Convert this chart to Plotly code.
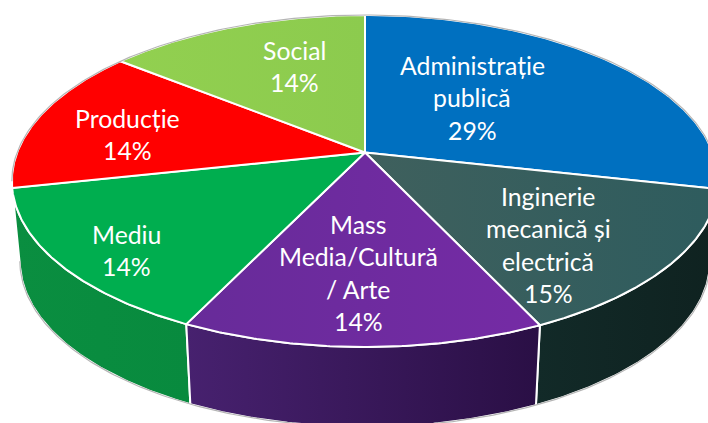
import numpy as np
import plotly.graph_objects as go

# ---- data -------------------------------------------------------------
categories = ["Administrație\npublică", "Inginerie\nmecanică și\nelectrică",
              "Mass\nMedia/Cultură\n/ Arte", "Mediu", "Producție", "Social"]
values = [28.51, 14.51, 14.13, 14.45, 14.2, 14.2]

# ---- style ------------------------------------------------------------
top_colors = [("#0070C0", "#0070C0"), ("#3F605D", "#2E5C5E"), ("#672B99", "#752BA5"),
              ("#00AE4F", "#00AE4F"), ("#FF0000", "#FF0000"), ("#92D050", "#8CCB4E")]
side_colors = [("#00487C", "#00487C"), ("#122A28", "#0F2220"), ("#47216F", "#2A0F45"),
               ("#0A8E40", "#088A3E"), ("#A00000", "#A00000"), ("#5C8432", "#5C8432")]
label_anchor = [(472, 65), (548, 196), (358, 224), (126, 234), (127, 118), (294, 50)]
LINE_PITCH = 32.6
FONT = dict(family="Lato", size=24.8, color="white")

# ---- projection of the pie disc -----------------------------------------
CX, CY, RX, RY, K = 365.0, 152.5, 347.9, 161.1, 0.1716
DEPTH, SHRINK = 80.0, 345.0 / 353.0


def top_point(theta):
    X, Y = np.sin(theta), np.cos(theta)
    w = 1 + K * Y
    return CX + RX * X / w, CY - RY * Y / w


def bottom_point(theta):
    x, y = top_point(theta)
    return CX + (x - CX) * SHRINK, y + DEPTH


def gradient(pair):
    return dict(type="horizontal", colorscale=[[0, pair[0]], [1, pair[1]]])


total = sum(values)
edges = 2 * np.pi * np.concatenate([[0], np.cumsum(values)]) / total
fig = go.Figure()

# side walls, back to front
for i in [5, 4, 0, 3, 1, 2]:
    t = np.linspace(edges[i], edges[i + 1], 80)
    xt, yt = top_point(t)
    xb, yb = bottom_point(t)
    fig.add_trace(go.Scatter(
        x=np.concatenate([xt, xb[::-1], xt[:1]]),
        y=np.concatenate([yt, yb[::-1], yt[:1]]),
        mode="lines", fill="toself", fillgradient=gradient(side_colors[i]),
        line=dict(color="white", width=2), hoverinfo="skip", showlegend=False))

# top sectors
for i in range(len(values)):
    t = np.linspace(edges[i], edges[i + 1], 120)
    xt, yt = top_point(t)
    fig.add_trace(go.Scatter(
        x=np.concatenate([[CX], xt, [CX]]),
        y=np.concatenate([[CY], yt, [CY]]),
        mode="lines", fill="toself", fillgradient=gradient(top_colors[i]),
        line=dict(color="white", width=2), hoverinfo="skip", showlegend=False))

# thin grey silhouette: back arc of the top and front arc of the base
tb = np.radians(np.linspace(-100, 100, 240))
xb1, yb1 = top_point(tb)
fig.add_trace(go.Scatter(x=xb1, y=yb1, mode="lines", line=dict(color="#B5B5B5", width=1.2),
                         hoverinfo="skip", showlegend=False))
tf = np.radians(np.linspace(100, 260, 240))
xb2, yb2 = bottom_point(tf)
fig.add_trace(go.Scatter(x=xb2, y=yb2, mode="lines", line=dict(color="#B5B5B5", width=1.2),
                         hoverinfo="skip", showlegend=False))

# labels
annotations = []
for name, v, (ax, ay) in zip(categories, values, label_anchor):
    lines = name.split("\n") + [f"{round(v)}%"]
    for j, line in enumerate(lines):
        annotations.append(dict(x=ax, y=ay + j * LINE_PITCH, text=line, showarrow=False,
                                xref="x", yref="y", xanchor="center", yanchor="middle",
                                font=FONT))

fig.update_layout(
    width=708, height=423, margin=dict(l=0, r=0, t=0, b=0),
    paper_bgcolor="white", plot_bgcolor="white", showlegend=False,
    xaxis=dict(range=[0, 708], visible=False, fixedrange=True),
    yaxis=dict(range=[423, 0], visible=False, fixedrange=True),
    annotations=annotations,
)
fig.write_html("out.html", config={"displayModeBar": False},
               post_script="document.body.style.margin='0';document.body.style.overflow='hidden';")
